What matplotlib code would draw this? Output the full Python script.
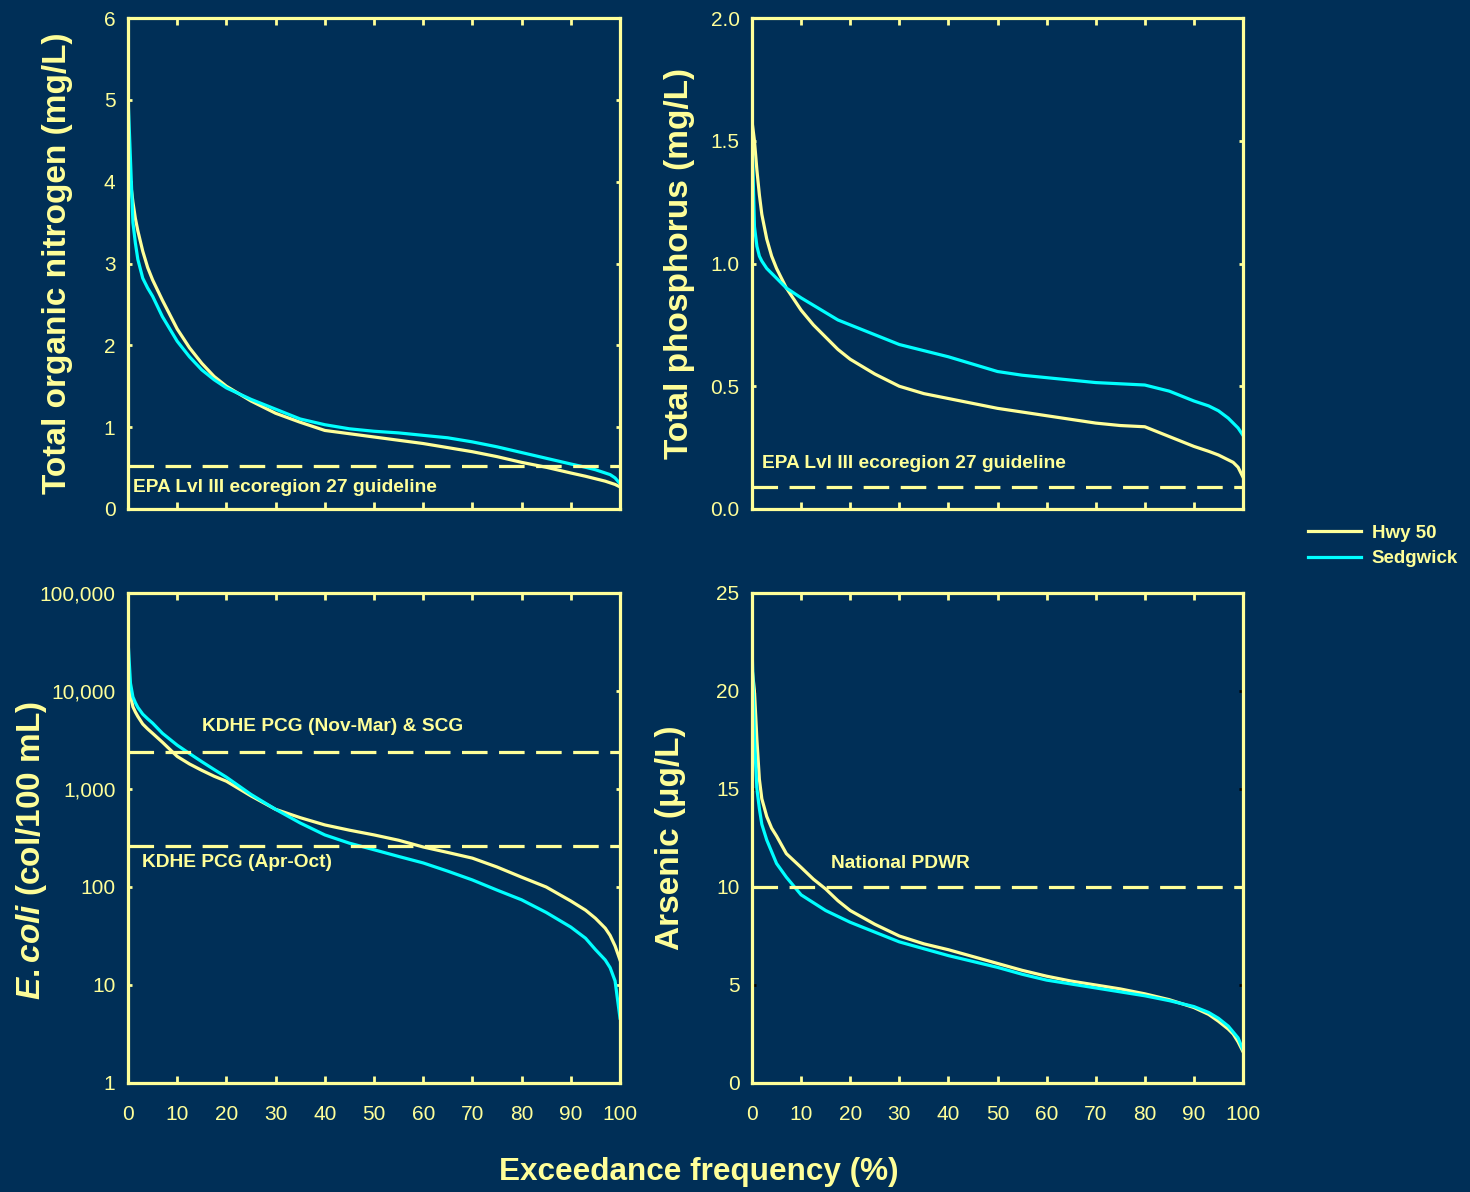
import numpy as np
import matplotlib.pyplot as plt
from matplotlib.ticker import FuncFormatter

BG = '#002f57'
YEL = '#ffff99'
CYN = '#00ffff'

plt.rcParams['font.family'] = ['Liberation Sans', 'DejaVu Sans']
plt.rcParams['mathtext.fontset'] = 'custom'
plt.rcParams['mathtext.it'] = 'Liberation Sans:italic:bold'
plt.rcParams['mathtext.rm'] = 'Liberation Sans:bold'

# exceedance frequency (%)
freq = [0, 0.5, 1, 1.5, 2, 3, 4, 5, 7, 10, 12.5, 15, 17.5, 20, 25, 30, 35, 40, 45, 50,
        55, 60, 65, 70, 75, 80, 85, 90, 93, 95, 97, 98, 99, 100]

# total organic nitrogen, mg/L
ton_hwy = [4.2, 4.0, 3.75, 3.55, 3.4, 3.15, 2.95, 2.8, 2.55, 2.2, 1.97, 1.78, 1.62, 1.5, 1.32, 1.17,
           1.06, 0.96, 0.92, 0.88, 0.84, 0.8, 0.75, 0.7, 0.64, 0.57, 0.51, 0.44, 0.4, 0.37,
           0.34, 0.32, 0.3, 0.27]
ton_sed = [5.05, 4.27, 3.5, 3.25, 3.05, 2.82, 2.7, 2.6, 2.35, 2.05, 1.86, 1.7, 1.58, 1.48, 1.34, 1.22,
           1.1, 1.03, 0.98, 0.95, 0.93, 0.9, 0.87, 0.82, 0.76, 0.69, 0.62, 0.55, 0.51, 0.48,
           0.44, 0.42, 0.38, 0.31]
ton_guide = 0.52

# total phosphorus, mg/L
tp_hwy = [1.58, 1.5, 1.38, 1.28, 1.2, 1.1, 1.03, 0.98, 0.9, 0.81, 0.75, 0.7, 0.65, 0.61, 0.55, 0.5,
          0.47, 0.45, 0.43, 0.41, 0.395, 0.38, 0.365, 0.35, 0.34, 0.335, 0.295, 0.255, 0.235, 0.22,
          0.2, 0.19, 0.17, 0.13]
tp_sed = [1.53, 1.15, 1.07, 1.03, 1.01, 0.98, 0.96, 0.94, 0.9, 0.86, 0.83, 0.8, 0.77, 0.75, 0.71, 0.67,
          0.645, 0.62, 0.59, 0.56, 0.545, 0.535, 0.525, 0.515, 0.51, 0.505, 0.48, 0.44, 0.42, 0.4,
          0.37, 0.35, 0.33, 0.3]
tp_guide = 0.09

# E. coli, col/100 mL
ec_hwy = [15000, 9000, 6900, 6100, 5500, 4600, 4100, 3700, 3000, 2150, 1800, 1550, 1350, 1200, 850, 620,
          510, 430, 380, 340, 300, 256, 225, 197, 160, 126, 100, 72, 58, 48,
          38, 32, 25, 18]
ec_sed = [33000, 12000, 8700, 7600, 6800, 5800, 5200, 4700, 3700, 2800, 2300, 1900, 1580, 1320, 880, 620,
          450, 340, 280, 240, 205, 176, 145, 118, 93, 74, 55, 39, 30, 23,
          18, 15, 11, 4.6]
ec_high = 2358
ec_low = 262

# arsenic, ug/L
as_hwy = [21.2, 20.0, 17.5, 15.5, 14.5, 13.6, 13.0, 12.6, 11.7, 11.0, 10.4, 9.9, 9.3, 8.8, 8.1, 7.5,
          7.1, 6.8, 6.45, 6.1, 5.75, 5.45, 5.2, 5.0, 4.8, 4.55, 4.25, 3.85, 3.5, 3.15,
          2.75, 2.5, 2.1, 1.6]
as_sed = [22.4, 17.5, 15.0, 14.0, 13.2, 12.4, 11.8, 11.2, 10.5, 9.6, 9.2, 8.8, 8.5, 8.2, 7.7, 7.2,
          6.85, 6.5, 6.2, 5.9, 5.55, 5.25, 5.05, 4.85, 4.65, 4.45, 4.2, 3.9, 3.6, 3.3,
          2.9, 2.6, 2.3, 1.7]
as_pdwr = 10

fig = plt.figure(figsize=(14.7, 11.92), dpi=100, facecolor=BG)
W, H = 1470, 1192


def make_ax(x0, y0, x1, y1):
    ax = fig.add_axes([x0 / W, 1 - y1 / H, (x1 - x0) / W, (y1 - y0) / H])
    ax.set_facecolor(BG)
    for s in ax.spines.values():
        s.set_color(YEL)
        s.set_linewidth(2.3)
    ax.set_xlim(0, 100)
    ax.set_xticks(range(0, 101, 10))
    ax.tick_params(axis='x', which='major', direction='in', top=True, length=5,
                   width=2, color=YEL, labelcolor=YEL, labelsize=15, pad=16)
    ax.tick_params(axis='y', which='major', direction='in', right=True, length=3,
                   width=2, color=YEL, labelcolor=YEL, labelsize=15, pad=9)
    ax.tick_params(which='minor', length=0)
    return ax


def curves(ax, hwy_vals, sed_vals):
    ax.plot(freq, hwy_vals, color=YEL, lw=2.3, label='Hwy 50', solid_joinstyle='round')
    ax.plot(freq, sed_vals, color=CYN, lw=2.3, label='Sedgwick', solid_joinstyle='round')


def guide(ax, y):
    ax.axhline(y, color=YEL, lw=2.3, dashes=(8, 3.6))


def ylab(ax, text, x, y=0.5):
    ax.text(x, y, text, transform=ax.transAxes, rotation=90, ha='center', va='center',
            color=YEL, fontsize=24, fontweight='bold')


label_kw = dict(color=YEL, fontsize=13.8, fontweight='bold')

# total organic nitrogen
ax1 = make_ax(128, 18, 620, 509)
curves(ax1, ton_hwy, ton_sed)
guide(ax1, ton_guide)
ax1.set_ylim(0, 6)
ax1.set_yticks(range(0, 7))
ax1.set_xticklabels([])
ax1.text(1, 0.26, 'EPA Lvl III ecoregion 27 guideline', va='center', **label_kw)
ylab(ax1, 'Total organic nitrogen (mg/L)', -0.143)

# total phosphorus
ax2 = make_ax(752, 18, 1243, 509)
curves(ax2, tp_hwy, tp_sed)
guide(ax2, tp_guide)
ax2.set_ylim(0, 2)
ax2.set_yticks(np.arange(0, 2.01, 0.5))
ax2.yaxis.set_major_formatter(FuncFormatter(lambda v, p: f'{v:.1f}'))
ax2.set_xticklabels([])
ax2.text(2, 0.187, 'EPA Lvl III ecoregion 27 guideline', va='center', **label_kw)
ylab(ax2, 'Total phosphorus (mg/L)', -0.147)

# E. coli
ax3 = make_ax(128, 593, 620, 1083)
curves(ax3, ec_hwy, ec_sed)
guide(ax3, ec_high)
guide(ax3, ec_low)
ax3.set_yscale('log')
ax3.set_ylim(1, 100000)
ax3.set_yticks([1, 10, 100, 1000, 10000, 100000])
ax3.yaxis.set_major_formatter(FuncFormatter(lambda v, p: f'{v:,.0f}'))
ax3.tick_params(axis='y', which='minor', length=0)
ax3.text(15, 4300, 'KDHE PCG (Nov-Mar) & SCG', va='center', **label_kw)
ax3.text(2.8, 178, 'KDHE PCG (Apr-Oct)', va='center', **label_kw)
ylab(ax3, r'$E. coli$ (col/100 mL)', -0.197, 0.475)

# arsenic
ax4 = make_ax(752, 593, 1243, 1083)
curves(ax4, as_hwy, as_sed)
guide(ax4, as_pdwr)
ax4.set_ylim(0, 25)
ax4.set_yticks(range(0, 26, 5))
ax4.tick_params(axis='y', color='black')
ax4.text(16, 11.2, 'National PDWR', va='center', **label_kw)
ylab(ax4, 'Arsenic (\u03bcg/L)', -0.167)

fig.text(699 / W, 1 - 1172 / H, 'Exceedance frequency (%)', ha='center', va='center',
         color=YEL, fontsize=22.7, fontweight='bold')

h, l = ax1.get_legend_handles_labels()
leg = fig.legend(h, l, loc='center left', bbox_to_anchor=(1308 / W, 1 - 546 / H),
                 frameon=False, handlelength=2.8, handletextpad=0.6, labelspacing=0.45,
                 borderpad=0, borderaxespad=0, prop={'size': 13.5, 'weight': 'bold'})
for t in leg.get_texts():
    t.set_color(YEL)

fig.savefig('out.png', dpi=100, facecolor=BG)
